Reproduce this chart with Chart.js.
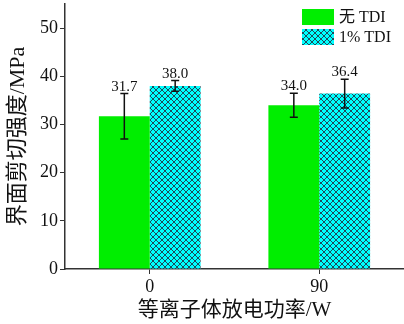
<!DOCTYPE html>
<html>
<head>
<meta charset="utf-8">
<script src="https://cdn.jsdelivr.net/npm/chart.js@4/dist/chart.umd.min.js"></script>
<style>
  html, body { margin: 0; padding: 0; background: #fff; }
  #wrap { width: 404px; height: 324px; }
</style>
</head>
<body>
<div id="wrap"><canvas id="c" width="404" height="324"></canvas></div>
<script>
// Interfacial shear strength vs. plasma discharge power
const categories = ['0', '90'];
const seriesNames = ['无 TDI', '1% TDI'];
const noTdi = [31.7, 34.0];
const noTdiErr = [4.7, 2.5];
const withTdi = [38.0, 36.4];
const withTdiErr = [1.1, 3.0];
const yTicks = [0, 10, 20, 30, 40, 50];

const FONT = "'Liberation Serif', 'Times New Roman', 'Noto Sans CJK SC', serif";

// cyan fill with a dark diamond cross-hatch
function makeHatch() {
  const s = 6;
  const p = document.createElement('canvas');
  p.width = s; p.height = s;
  const g = p.getContext('2d');
  g.fillStyle = '#00ffff';
  g.fillRect(0, 0, s, s);
  g.strokeStyle = '#1e4a5a';
  g.lineWidth = 1;
  g.beginPath();
  g.moveTo(-1, -1); g.lineTo(s + 1, s + 1);
  g.moveTo(s + 1, -1); g.lineTo(-1, s + 1);
  g.stroke();
  return g.createPattern(p, 'repeat');
}
const ctx = document.getElementById('c').getContext('2d');
const hatch = makeHatch();

const errors = [noTdiErr, withTdiErr];

// error bars + value labels on top of each bar
const errorBarPlugin = {
  id: 'errorBars',
  afterDatasetsDraw(chart) {
    const c = chart.ctx;
    const y = chart.scales.y;
    chart.data.datasets.forEach((ds, di) => {
      const meta = chart.getDatasetMeta(di);
      meta.data.forEach((bar, i) => {
        const v = ds.data[i];
        const e = errors[di][i];
        const x = bar.x;
        const yt = y.getPixelForValue(v + e);
        const yb = y.getPixelForValue(v - e);
        c.save();
        c.strokeStyle = '#111';
        c.lineWidth = 1.5;
        c.beginPath();
        c.moveTo(x, yt); c.lineTo(x, yb);
        c.moveTo(x - 4, yt); c.lineTo(x + 4, yt);
        c.moveTo(x - 4, yb); c.lineTo(x + 4, yb);
        c.stroke();
        c.fillStyle = '#111';
        c.font = '15px ' + FONT;
        c.textAlign = 'center';
        c.textBaseline = 'alphabetic';
        c.fillText(v.toFixed(1), x, yt - 3);
        c.restore();
      });
    });
  }
};

// legend drawn inside the plot, top right
const insideLegend = {
  id: 'insideLegend',
  afterDraw(chart) {
    const c = chart.ctx;
    const a = chart.chartArea;
    const x0 = a.right - 102;
    const y0 = a.top + 5;
    chart.data.datasets.forEach((ds, i) => {
      const by = y0 + i * 20;
      c.save();
      c.fillStyle = ds.backgroundColor;
      c.fillRect(x0, by, 32, 16);
      c.fillStyle = '#111';
      c.font = '16px ' + FONT;
      c.textBaseline = 'middle';
      c.textAlign = 'left';
      c.fillText(ds.label, x0 + 37, by + 9);
      c.restore();
    });
  }
};

new Chart(ctx, {
  type: 'bar',
  data: {
    labels: categories,
    datasets: [
      { label: seriesNames[0], data: noTdi, backgroundColor: '#00ee00', borderWidth: 0 },
      { label: seriesNames[1], data: withTdi, backgroundColor: hatch, borderWidth: 0 }
    ]
  },
  options: {
    responsive: false,
    animation: false,
    events: [],
    layout: { padding: { top: 4, right: 0, left: 0, bottom: 0 } },
    datasets: { bar: { categoryPercentage: 0.6, barPercentage: 1.0 } },
    plugins: { legend: { display: false }, tooltip: { enabled: false } },
    scales: {
      x: {
        grid: { display: true, drawOnChartArea: false, drawTicks: true, tickLength: 5, offset: false, color: '#333' },
        border: { display: true, color: '#333', width: 1.5 },
        ticks: { color: '#111', font: { family: FONT, size: 18 }, padding: 2 },
        title: { display: true, text: '等离子体放电功率/W', color: '#111', font: { family: FONT, size: 21 }, padding: { top: 0, bottom: 1 } },
        afterFit(s) { s.height = 55; s.paddingLeft = 0; s.paddingRight = 0; }
      },
      y: {
        min: 0, max: 55,
        grid: { display: true, drawOnChartArea: false, drawTicks: true, tickLength: 5, color: '#333' },
        border: { display: true, color: '#333', width: 1.5 },
        ticks: { color: '#111', font: { family: FONT, size: 18 }, padding: 2, stepSize: 10 },
        afterBuildTicks(s) { s.ticks = yTicks.map(v => ({ value: v })); },
        title: { display: true, text: '界面剪切强度/MPa', color: '#111', font: { family: FONT, size: 22 }, padding: { top: 5, bottom: 0 } },
        afterFit(s) { s.width = 65; s.paddingTop = 0; s.paddingBottom = 0; }
      }
    }
  },
  plugins: [errorBarPlugin, insideLegend]
});
</script>
</body>
</html>
